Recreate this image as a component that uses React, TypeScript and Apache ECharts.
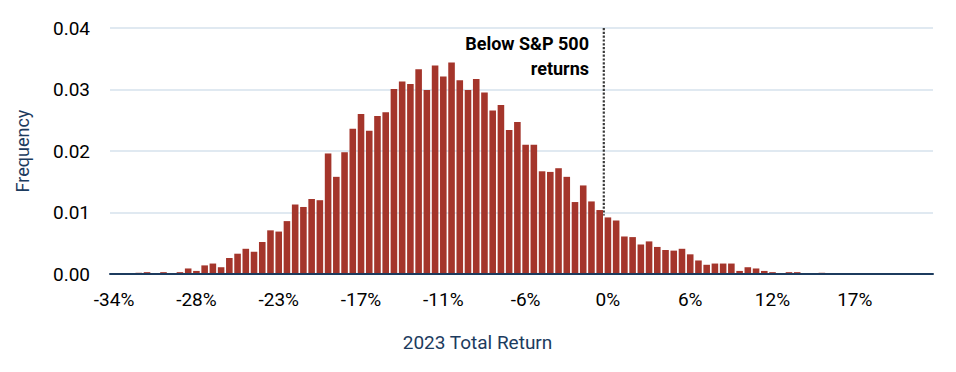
import React, { useEffect, useRef } from "react";
import * as echarts from "echarts";

// Histogram bins (100 bins, labelled every 10th)
const freq: number[] = [
  0, 0, 0, 0.0002, 0.0003, 0.0001, 0.0003, 0, 0.0003, 0.0009,
  0.0005, 0.0014, 0.0017, 0.0011, 0.0026, 0.0033, 0.0041, 0.0036, 0.0052, 0.0071,
  0.0069, 0.0086, 0.0113, 0.0109, 0.0122, 0.012, 0.0196, 0.0158, 0.0198, 0.0236,
  0.026, 0.0233, 0.0257, 0.0263, 0.0301, 0.0313, 0.0309, 0.0333, 0.0299, 0.0339,
  0.0321, 0.0344, 0.0315, 0.0299, 0.0317, 0.0295, 0.0266, 0.0275, 0.0234, 0.0247,
  0.021, 0.021, 0.0167, 0.0166, 0.0172, 0.0158, 0.0117, 0.0144, 0.0118, 0.0104,
  0.0092, 0.0087, 0.0061, 0.006, 0.0048, 0.0053, 0.0044, 0.0039, 0.0038, 0.0041,
  0.0032, 0.0022, 0.0015, 0.0017, 0.0017, 0.0017, 0.0005, 0.0011, 0.0009, 0.0005,
  0.0003, 0, 0.0003, 0.0003, 0.0001, 0, 0.0002, 0, 0, 0,
  0, 0, 0, 0, 0, 0, 0, 0, 0, 0,
];
const categories: string[] = freq.map((_, i) => String(i));
const tickLabels: string[] = ["-34%", "-28%", "-23%", "-17%", "-11%", "-6%", "0%", "6%", "12%", "17%"];
const yTicks = { min: 0, max: 0.04, interval: 0.01 };
// Reference line at the S&P 500 return (bin boundary index 60)
const refLine: [number, number][] = [
  [60, 0.04],
  [60, 0.0095],
];

const NAVY = "#1c3b5e";
const FONT = "Roboto, 'Noto Sans', sans-serif";

export default function App() {
  const ref = useRef<HTMLDivElement>(null);
  useEffect(() => {
    document.body.style.margin = "0";
    if (!ref.current) return;
    const chart = echarts.init(ref.current, undefined, { renderer: "svg" });
    chart.setOption({
      animation: false,
      textStyle: { fontFamily: FONT },
      grid: { left: 110, right: 23, top: 28, bottom: 98, containLabel: false },
      xAxis: [
        {
          type: "category",
          data: categories,
          boundaryGap: true,
          axisLine: { show: true, lineStyle: { color: NAVY, width: 2 } },
          axisTick: { show: false },
          axisLabel: {
            interval: 9,
            margin: 16,
            color: "#000",
            fontSize: 19,
            fontFamily: FONT,
            formatter: (_v: string, idx: number) => tickLabels[Math.round(idx / 10)] ?? "",
          },
          splitLine: { show: false },
          z: 5,
        },
        {
          type: "value",
          min: 0,
          max: 100,
          show: false,
          splitLine: { show: false },
        },
      ],
      yAxis: {
        type: "value",
        min: yTicks.min,
        max: yTicks.max,
        interval: yTicks.interval,
        name: "Frequency",
        nameLocation: "middle",
        nameGap: 79,
        nameTextStyle: { color: NAVY, fontSize: 18, fontFamily: FONT },
        axisLine: { show: false },
        axisTick: { show: false },
        axisLabel: {
          margin: 20,
          color: "#000",
          fontSize: 19,
          fontFamily: FONT,
          formatter: (v: number) => v.toFixed(2),
        },
        splitLine: { show: true, lineStyle: { color: "#d6e2ec", width: 1.5 } },
      },
      series: [
        {
          type: "line",
          xAxisIndex: 1,
          yAxisIndex: 0,
          data: refLine,
          symbol: "none",
          lineStyle: { color: "#3a3a3a", width: 2.2, type: [2.2, 1.6] },
          z: 1,
          silent: true,
        },
        {
          type: "bar",
          xAxisIndex: 0,
          data: freq,
          barCategoryGap: "20%",
          itemStyle: { color: "#a4352b" },
          z: 2,
          silent: true,
        },
      ],
      graphic: [
        {
          type: "text",
          x: 589,
          y: 31,
          style: {
            text: "Below S&P 500\nreturns",
            align: "right",
            textAlign: "right",
            verticalAlign: "top",
            fill: "#000",
            font: `bold 18px ${FONT}`,
            lineHeight: 25,
          },
        },
        {
          type: "text",
          x: 477.5,
          y: 342,
          style: {
            text: "2023 Total Return",
            align: "center",
            verticalAlign: "middle",
            fill: NAVY,
            font: `19px ${FONT}`,
          },
        },
      ],
    });
    return () => chart.dispose();
  }, []);
  return <div ref={ref} style={{ width: 956, height: 372 }} />;
}
